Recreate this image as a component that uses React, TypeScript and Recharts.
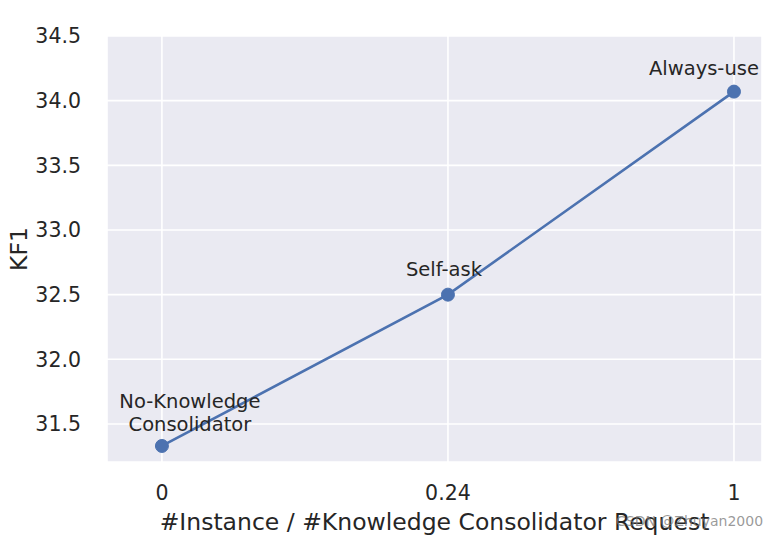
import { LineChart, Line, XAxis, YAxis, CartesianGrid } from 'recharts';

const positions = [0, 1, 2];
const xLabels = ['0', '0.24', '1'];
const kf1Values = [31.33, 32.5, 34.07];
const pointNames = [['No-Knowledge', 'Consolidator'], ['Self-ask'], ['Always-use']];
const yTicks = [31.5, 32.0, 32.5, 33.0, 33.5, 34.0, 34.5];

const chartData = positions.map((x, i) => ({ x, kf1: kf1Values[i], name: pointNames[i] }));

const FONT = '"DejaVu Sans", sans-serif';
// text offsets for each annotation, relative to its point
const annotOffsets = [
  { dx: 28, dy: -45 },
  { dx: -4, dy: -26 },
  { dx: -30, dy: -24 },
];

const PointLabel = (props: any) => {
  const { x, y, index } = props;
  const lines = pointNames[index];
  const off = annotOffsets[index];
  return (
    <text
      x={x + off.dx}
      y={y + off.dy}
      textAnchor="middle"
      dominantBaseline="central"
      fontFamily={FONT}
      fontSize={19.5}
      fill="#262626"
    >
      {lines.map((l: string, k: number) => (
        <tspan key={k} x={x + off.dx} dy={k === 0 ? 0 : 23}>
          {l}
        </tspan>
      ))}
    </text>
  );
};

const App = () => {
  return (
    <div style={{ position: 'absolute', left: 0, top: 0, width: 777, height: 540, background: '#fff' }}>
      <LineChart
        width={777}
        height={540}
        data={chartData}
        margin={{ top: 36, right: 15, bottom: 48, left: 37 }}
      >
        <CartesianGrid fill="#EAEAF2" stroke="#ffffff" strokeWidth={1.6} />
        <XAxis
          dataKey="x"
          type="number"
          domain={[-0.192, 2.098]}
          ticks={positions}
          tickFormatter={(v: number) => xLabels[v]}
          allowDataOverflow
          axisLine={false}
          tickLine={false}
          tickMargin={17}
          height={30}
          tick={{ fill: '#262626', fontSize: 20.5, fontFamily: FONT }}
          label={{
            value: '#Instance / #Knowledge Consolidator Request',
            position: 'insideBottom',
            offset: -38,
            fill: '#262626',
            fontSize: 23.5,
            fontFamily: FONT,
          }}
        />
        <YAxis
          type="number"
          domain={[31.206, 34.5]}
          ticks={yTicks}
          tickFormatter={(v: number) => v.toFixed(1)}
          allowDataOverflow
          axisLine={false}
          tickLine={false}
          tickMargin={20}
          width={70}
          tick={{ fill: '#262626', fontSize: 20.5, fontFamily: FONT }}
          label={{
            value: 'KF1',
            angle: -90,
            position: 'insideLeft',
            offset: 0,
            dx: -18,
            fill: '#262626',
            fontSize: 23.5,
            fontFamily: FONT,
            style: { textAnchor: 'middle' },
          }}
        />
        <Line
          dataKey="kf1"
          stroke="#4C72B0"
          strokeWidth={2.6}
          dot={{ r: 6.5, fill: '#4C72B0', stroke: '#4C72B0', strokeWidth: 1 }}
          isAnimationActive={false}
          label={<PointLabel />}
        />
      </LineChart>
      <div
        style={{
          position: 'absolute',
          left: 616,
          top: 513,
          fontFamily: FONT,
          fontSize: 14,
          color: 'rgba(120,120,120,0.75)',
        }}
      >
        CSDN @Zhuyan2000
      </div>
    </div>
  );
};

export default App;
